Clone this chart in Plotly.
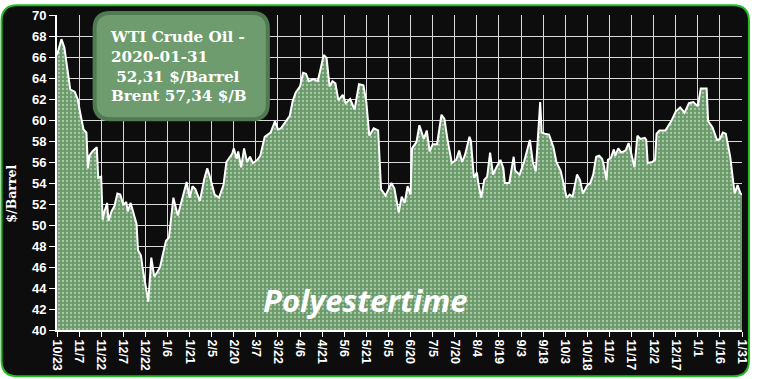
import plotly.graph_objects as go

dates = [
"2018-10-23","2018-10-26","2018-10-28","2018-10-30","2018-11-01","2018-11-04","2018-11-06","2018-11-08",
"2018-11-10","2018-11-12","2018-11-13","2018-11-14","2018-11-16","2018-11-19","2018-11-20","2018-11-22",
"2018-11-23","2018-11-24","2018-11-26","2018-11-27","2018-11-29","2018-12-01","2018-12-03","2018-12-05",
"2018-12-07","2018-12-09","2018-12-10","2018-12-12","2018-12-14","2018-12-16","2018-12-17","2018-12-19",
"2018-12-20","2018-12-22","2018-12-24","2018-12-26","2018-12-28","2018-12-30","2019-01-01","2019-01-03",
"2019-01-05","2019-01-07","2019-01-10","2019-01-13","2019-01-16","2019-01-18","2019-01-19","2019-01-21",
"2019-01-23","2019-01-25","2019-01-28","2019-01-31","2019-02-02","2019-02-04","2019-02-07","2019-02-10",
"2019-02-13","2019-02-15","2019-02-19","2019-02-20","2019-02-22","2019-02-23","2019-02-25","2019-02-27",
"2019-03-01","2019-03-03","2019-03-05","2019-03-08","2019-03-10","2019-03-13","2019-03-17","2019-03-20",
"2019-03-22","2019-03-24","2019-03-27","2019-03-30","2019-04-01","2019-04-03","2019-04-06","2019-04-08",
"2019-04-10","2019-04-12","2019-04-15","2019-04-18","2019-04-20","2019-04-22","2019-04-24","2019-04-26",
"2019-04-28","2019-04-30","2019-05-02","2019-05-05","2019-05-07","2019-05-10","2019-05-13","2019-05-16",
"2019-05-19","2019-05-21","2019-05-23","2019-05-26","2019-05-29","2019-05-31","2019-06-03","2019-06-07",
"2019-06-09","2019-06-12","2019-06-14","2019-06-16","2019-06-18","2019-06-20","2019-06-21","2019-06-24",
"2019-06-26","2019-06-29","2019-07-01","2019-07-03","2019-07-05","2019-07-08","2019-07-11","2019-07-13",
"2019-07-15","2019-07-18","2019-07-21","2019-07-23","2019-07-25","2019-07-27","2019-07-30","2019-07-31",
"2019-08-02","2019-08-04","2019-08-05","2019-08-07","2019-08-09","2019-08-11","2019-08-13","2019-08-15",
"2019-08-17","2019-08-20","2019-08-22","2019-08-23","2019-08-26","2019-08-28","2019-08-29","2019-08-30",
"2019-09-02","2019-09-05","2019-09-09","2019-09-11","2019-09-13","2019-09-16","2019-09-17","2019-09-19",
"2019-09-22","2019-09-25","2019-09-27","2019-09-30","2019-10-02","2019-10-04","2019-10-06","2019-10-08",
"2019-10-11","2019-10-13","2019-10-15","2019-10-18","2019-10-20","2019-10-22","2019-10-24","2019-10-26",
"2019-10-28","2019-10-29","2019-10-31","2019-11-01","2019-11-03","2019-11-05","2019-11-06","2019-11-08",
"2019-11-10","2019-11-13","2019-11-15","2019-11-16","2019-11-19","2019-11-21","2019-11-23","2019-11-26",
"2019-11-27","2019-11-28","2019-12-01","2019-12-03","2019-12-04","2019-12-06","2019-12-10","2019-12-14",
"2019-12-17","2019-12-20","2019-12-23","2019-12-26","2019-12-29","2020-01-01","2020-01-03","2020-01-07",
"2020-01-08","2020-01-11","2020-01-14","2020-01-16","2020-01-18","2020-01-20","2020-01-23","2020-01-25",
"2020-01-26","2020-01-28","2020-01-30","2020-01-31"]

wti = [
66.2,67.7,66.9,64.8,62.9,62.7,62.0,60.5,
59.1,58.8,55.4,56.6,57.0,57.4,54.5,54.6,
50.5,51.2,52.1,50.4,51.3,51.8,53.0,52.9,
51.9,52.2,51.3,52.1,51.0,50.1,47.6,47.1,
46.0,44.5,42.7,46.9,45.1,45.5,46.0,47.3,
48.5,48.8,52.6,50.9,52.4,53.5,54.1,52.6,
53.7,53.4,52.3,54.4,55.4,54.5,52.9,52.6,
53.8,56.0,56.8,57.3,56.3,57.0,55.5,57.3,
56.0,56.5,55.9,56.2,56.6,58.4,58.8,59.9,
59.1,59.2,59.8,60.4,61.8,62.6,63.2,64.5,
64.4,63.7,63.9,63.7,64.9,66.2,65.9,63.2,
63.7,63.5,61.9,62.4,61.6,62.0,61.0,63.4,
63.3,61.7,58.5,59.2,59.0,53.4,52.8,54.0,
53.5,51.2,52.7,52.1,53.7,52.9,57.3,57.9,
59.5,58.2,59.0,57.0,57.7,57.7,60.5,60.1,
58.2,55.9,56.2,57.1,56.0,56.7,58.4,58.0,
54.5,55.0,54.0,52.6,54.3,54.6,56.9,54.8,
55.4,56.2,55.4,54.0,54.0,55.7,56.5,55.2,
54.8,56.0,58.1,56.0,55.1,61.7,58.8,58.7,
58.6,57.4,56.0,55.1,53.8,52.6,52.9,52.7,
54.8,54.3,53.0,53.8,54.0,54.8,56.5,56.6,
56.3,55.8,54.3,56.2,56.4,57.2,56.6,57.3,
56.9,57.1,57.8,57.3,55.5,58.5,58.2,58.3,
58.1,55.9,56.0,56.2,58.7,59.0,59.0,59.9,
60.8,61.2,60.7,61.6,61.7,61.3,63.0,63.0,
59.9,59.3,58.1,58.2,58.8,58.7,56.5,54.3,
53.0,53.8,53.0,52.9]

tick_dates = ["2018-10-23","2018-11-07","2018-11-22","2018-12-07","2018-12-22","2019-01-06",
              "2019-01-21","2019-02-05","2019-02-20","2019-03-07","2019-03-22","2019-04-06",
              "2019-04-21","2019-05-06","2019-05-21","2019-06-05","2019-06-20","2019-07-05",
              "2019-07-20","2019-08-04","2019-08-19","2019-09-03","2019-09-18","2019-10-03",
              "2019-10-18","2019-11-02","2019-11-17","2019-12-02","2019-12-17","2020-01-01",
              "2020-01-16","2020-01-31"]
tick_labels = ["10/23","11/7","11/22","12/7","12/22","1/6","1/21","2/5","2/20","3/7","3/22",
               "4/6","4/21","5/6","5/21","6/5","6/20","7/5","7/20","8/4","8/19","9/3","9/18",
               "10/3","10/18","11/2","11/17","12/2","12/17","1/1","1/16","1/31"]

box_lines = ["WTI Crude Oil -", "2020-01-31", "&nbsp;52,31 $/Barrel", "Brent 57,34 $/B"]
y_title = "$/Barrel"
watermark = "Polyestertime"

W, H = 757, 379
L, R, T, B = 57, 8, 11, 48
PW, PH = W - L - R, H - T - B

def px(x):
    return (x - L) / PW

def py(y):
    return (H - B - y) / PH

def rounded(x0, y0, x1, y1, r):
    pts = [
        f"M {px(x0 + r)} {py(y0)}",
        f"L {px(x1 - r)} {py(y0)}",
        f"Q {px(x1)} {py(y0)} {px(x1)} {py(y0 + r)}",
        f"L {px(x1)} {py(y1 - r)}",
        f"Q {px(x1)} {py(y1)} {px(x1 - r)} {py(y1)}",
        f"L {px(x0 + r)} {py(y1)}",
        f"Q {px(x0)} {py(y1)} {px(x0)} {py(y1 - r)}",
        f"L {px(x0)} {py(y0 + r)}",
        f"Q {px(x0)} {py(y0)} {px(x0 + r)} {py(y0)}",
        "Z",
    ]
    return " ".join(pts)

fig = go.Figure()
fig.add_trace(go.Scatter(
    x=dates, y=wti, mode="lines", fill="tozeroy",
    line=dict(color="white", width=2),
    fillcolor="#6a9a6a",
    fillpattern=dict(shape=".", fgcolor="#eef5ee", bgcolor="#6a9a6a", size=4, solidity=0.25),
    hoverinfo="skip", showlegend=False,
))

fig.update_layout(
    width=W, height=H,
    margin=dict(l=L, r=R, t=T, b=B, pad=0),
    paper_bgcolor="white",
    plot_bgcolor="#0d0d0d",
    xaxis=dict(
        type="date", range=["2018-10-23", "2020-01-31"],
        tickvals=tick_dates, ticktext=[f"<b>{t}</b>" for t in tick_labels], tickangle=90,
        tickfont=dict(family="Liberation Sans", size=12.5, color="white"),
        showgrid=True, gridcolor="#d9d9d9", gridwidth=1,
        showline=True, linecolor="white", linewidth=2,
        ticks="outside", tickcolor="white", ticklen=5, tickwidth=1,
        zeroline=False, fixedrange=True,
    ),
    yaxis=dict(
        range=[40, 70], dtick=2, tick0=40,
        tickfont=dict(family="Liberation Sans", size=13, color="white", weight="bold"),
        showgrid=True, gridcolor="#d9d9d9", gridwidth=1,
        showline=True, linecolor="white", linewidth=2,
        ticks="outside", tickcolor="white", ticklen=6, tickwidth=1,
        zeroline=False, fixedrange=True,
    ),
    shapes=[
        dict(type="path", xref="paper", yref="paper", layer="below",
             path=rounded(1, 1, W - 1, H - 1, 16),
             fillcolor="#0d0d0d", line=dict(color="#22bb22", width=2)),
        dict(type="path", xref="paper", yref="paper", layer="above",
             path=rounded(95, 9, 270, 117, 16),
             fillcolor="#6e9c6e", line=dict(color="#507a52", width=4)),
    ],
    annotations=[
        dict(xref="paper", yref="paper", x=px(109), y=py(63), xanchor="left", yanchor="middle",
             text="<br>".join(box_lines), showarrow=False, align="left",
             font=dict(family="DejaVu Serif", size=15.2, color="white", weight=900)),
        dict(xref="paper", yref="paper", x=px(369), y=py(301), xanchor="center", yanchor="middle",
             text=f"<b><i>{watermark}</i></b>", showarrow=False,
             font=dict(family="Open Sans", size=31, color="white")),
        dict(xref="paper", yref="paper", x=px(11), y=py(192), xanchor="center", yanchor="middle",
             text=f"<b>{y_title}</b>", showarrow=False, textangle=-90,
             font=dict(family="DejaVu Serif", size=12.5, color="white")),
    ],
)

fig.write_html("out.html")
